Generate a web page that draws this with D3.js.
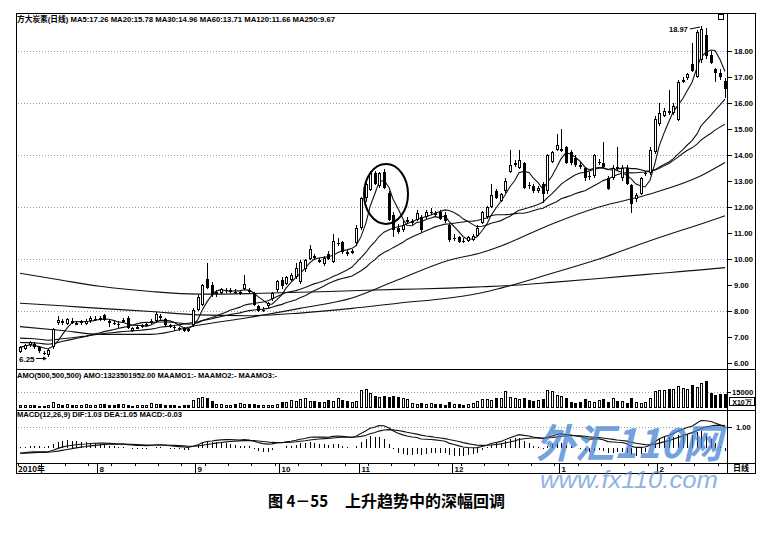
<!DOCTYPE html>
<html><head><meta charset="utf-8">
<script src="https://cdn.jsdelivr.net/npm/d3@7"></script>
<style>body{margin:0;background:#fff}svg{display:block}</style>
</head><body>
<svg id="c" width="777" height="537"></svg>
<script>
// ---------------- DATA ----------------
const opens = [
6.42,6.55,6.68,6.75,6.62,6.4,6.3,6.6,7.55,7.6,
7.5,7.6,7.5,7.52,7.5,7.6,7.7,7.65,7.85,7.6,
7.55,7.5,7.6,7.75,7.25,7.35,7.4,7.45,7.55,7.6,
7.8,7.7,7.45,7.4,7.35,7.35,7.3,7.45,8.05,8.25,
9.25,9.0,8.65,8.7,8.8,8.78,8.75,8.7,8.85,8.8,
8.7,8.2,8.05,8.2,8.45,8.8,
9.2,9.05,9.2,9.3,9.1,9.6,10.0,10.1,9.95,9.8,
10.2,9.9,10.6,10.65,10.25,10.25,10.6,11.2,12.35,12.65,
13.3,12.8,13.35,12.55,11.7,11.2,11.1,11.45,11.4,11.5,
11.6,11.6,11.8,11.75,11.8,11.7,11.3,10.8,10.85,10.7,
10.7,10.75,10.9,11.4,11.6,12.0,12.6,
12.25,12.6,13.35,13.65,13.5,13.7,12.85,12.8,12.6,12.9,
12.6,13.75,14.2,14.2,14.3,14.1,13.9,13.6,13.5,13.2,
13.2,13.75,13.7,13.1,13.1,13.55,13.1,13.5,12.85,12.3,
12.5,13.3,13.3,14.1,15.2,15.5,15.7,15.6,15.35,16.8,
16.95,17.5,17.0,17.65,18.6,17.85,17.3,17.15,16.85];
const highs = [
6.65,6.75,6.85,6.8,6.65,6.45,6.55,7.35,7.8,7.7,
7.75,7.75,7.6,7.65,7.7,7.8,7.8,7.8,7.9,7.7,
7.65,7.6,7.75,7.8,7.4,7.45,7.5,7.55,7.7,7.95,
7.9,7.75,7.5,7.45,7.4,7.4,7.35,8.1,8.6,9.05,
9.85,9.1,8.8,8.9,8.9,8.88,8.85,8.8,9.4,8.9,
8.75,8.25,8.15,8.35,8.75,9.2,
9.3,9.35,9.45,9.85,9.95,10.0,10.55,10.2,10.05,10.1,
10.3,10.95,10.8,10.7,10.35,10.4,11.3,12.4,13.0,13.4,
13.4,13.35,13.45,12.6,11.8,11.35,11.45,11.6,11.55,11.9,
11.7,11.9,11.95,11.85,11.9,11.8,11.35,10.95,10.9,10.8,
10.9,10.95,11.3,11.85,12.05,12.9,12.7,
12.55,13.1,14.2,13.8,14.2,13.75,12.95,12.9,12.8,12.95,
14.05,14.15,14.8,15.0,14.35,14.2,14.0,13.75,13.55,13.35,
14.05,13.85,14.5,13.2,13.6,14.3,13.6,13.6,12.9,12.55,
13.15,13.4,14.3,15.5,16.0,15.8,16.5,16.0,16.9,17.0,
17.15,18.3,18.8,18.97,18.9,18.0,17.35,17.3,16.95];
const lows = [
6.38,6.5,6.6,6.55,6.4,6.3,6.25,6.55,7.45,7.45,
7.45,7.5,7.45,7.48,7.45,7.55,7.6,7.6,7.6,7.4,
7.45,7.35,7.55,7.3,7.2,7.3,7.35,7.4,7.5,7.55,
7.65,7.4,7.35,7.25,7.25,7.2,7.2,7.4,8.0,8.2,
8.85,8.55,8.55,8.65,8.7,8.7,8.65,8.6,8.8,8.65,
8.2,7.95,7.95,8.1,8.4,8.75,
8.85,9.0,9.15,9.25,9.05,9.5,9.95,9.95,9.85,9.75,
9.95,9.85,10.5,10.2,10.1,10.2,10.5,11.1,12.2,12.6,
12.85,12.75,12.7,11.45,10.85,10.95,11.05,11.35,11.3,11.45,
11.05,11.55,11.7,11.6,11.5,11.4,10.65,10.7,10.6,10.6,
10.65,10.7,10.85,11.35,11.55,11.95,12.3,
12.2,12.55,13.3,13.55,13.45,12.7,12.7,12.55,12.55,12.15,
12.5,13.7,14.15,14.1,13.65,13.6,13.55,13.45,13.0,13.05,
13.1,13.6,13.5,12.65,13.05,13.4,13.0,12.85,11.75,12.2,
12.45,13.2,13.25,14.05,15.1,15.45,15.55,15.55,15.3,16.75,
16.9,17.2,16.95,17.55,17.7,17.5,16.8,16.9,16.2];
const closes = [
6.6,6.7,6.8,6.6,6.45,6.35,6.5,7.3,7.65,7.55,
7.7,7.55,7.52,7.6,7.62,7.75,7.7,7.75,7.65,7.55,
7.5,7.45,7.65,7.35,7.35,7.4,7.45,7.5,7.6,7.9,
7.75,7.45,7.4,7.35,7.3,7.25,7.25,8.05,8.55,9.0,
8.9,8.6,8.75,8.85,8.8,8.8,8.7,8.72,9.05,8.75,
8.25,8.0,8.05,8.3,8.7,9.15,
8.95,9.3,9.4,9.65,9.9,9.95,10.4,10.05,9.9,10.05,
10.0,10.7,10.6,10.25,10.2,10.3,11.2,12.35,12.9,13.3,
12.9,13.3,12.75,11.5,11.1,11.05,11.3,11.5,11.45,11.75,
11.1,11.8,11.8,11.7,11.55,11.45,10.75,10.8,10.65,10.68,
10.85,10.9,11.2,11.8,12.0,12.45,12.35,
12.5,13.0,13.6,13.7,13.8,12.75,12.8,12.6,12.75,12.5,
14.0,14.1,14.4,14.25,13.7,13.7,13.6,13.55,13.1,13.2,
14.0,13.75,13.55,12.7,13.5,13.45,13.5,12.9,12.1,12.45,
13.1,13.3,14.2,15.4,15.6,15.7,15.6,15.9,16.8,16.9,
17.1,17.25,18.75,18.85,17.8,17.55,17.15,17.0,16.55];
// turnover (AMO), units of 10万
const amo = [
2600,2400,2800,2500,2300,2200,3000,5500,
4200,3000,3500,2800,2600,3000,3800,3200,2900,4000,3300,2800,2600,3500,4200,2500,2300,2600,2700,3000,4500,3600,3800,2700,2500,2400,2300,2500,2400,
7500,9500,10500,9000,7000,
4000,3500,3200,3000,3400,4800,3500,4200,3800,2800,2600,2900,3200,3500,
6000,5500,7500,6500,8500,9500,6800,7000,6000,5500,7200,6800,9000,7500,6500,5800,6200,
16500,17500,14500,11000,10500,11500,
10500,11500,10000,9500,8000,
5000,4200,4800,3800,4500,4000,4200,3000,5500,4200,3800,3200,3500,4500,
7000,8000,8500,7500,9000,9500,
16000,10500,9500,8500,
9000,7500,6800,7200,8000,
16500,15500,12000,11000,
9000,5500,4800,6000,
8000,6500,5200,7500,8500,6000,9000,7000,6500,5000,9500,5800,4500,6000,9000,
16000,17000,16500,18000,17500,21000,18500,18000,21500,20000,23500,25000,14000,12000,13000,13235];
// long moving averages at sample candles
const maIdx  = [0,9,17,28,38,49,60,71,81,92,99,103,114,124,135,146,151];
const ma60   = [7.4,7.25,7.1,7.1,7.45,7.75,8.1,8.5,9.2,9.95,10.25,10.5,11.35,12.0,12.5,13.2,13.71];
const ma120  = [8.3,8.2,8.1,7.98,7.85,7.82,7.92,8.1,8.3,8.5,8.7,8.88,9.45,10.0,10.7,11.35,11.66];
const ma250  = [9.45,9.18,8.95,8.75,8.65,8.67,8.72,8.78,8.83,8.88,8.93,8.96,9.1,9.25,9.42,9.58,9.67];
const priceTicks = [6,7,8,9,10,11,12,13,14,15,16,17,18];
const gridPrices = [8,10,12,14,16,18];
const monthIdx = [17,38,56,73,93,116,137];
const monthLbl = ["8","9","10","11","12","1","2"];
const headerMain = "方大炭素(日线) MA5:17.26 MA20:15.78 MA30:14.96 MA60:13.71 MA120:11.66 MA250:9.67";
const headerAmo = "AMO(500,500,500) AMO:1323501952.00 MAAMO1:- MAAMO2:- MAAMO3:-";
const headerMacd = "MACD(12,26,9) DIF:1.03 DEA:1.05 MACD:-0.03";

// ---------------- DERIVED ----------------
const N = closes.length;
function sma(n, prior){
  return closes.map((c,i)=>{
    let s=0,k=0;
    for(let j=Math.max(0,i-n+1);j<=i;j++){s+=closes[j];k++;}
    return prior==null ? s/k : (s+(n-k)*prior)/n;
  });
}
const ma5 = sma(5,null), ma20 = sma(20,6.8), ma30 = sma(30,6.97);
let e12=6.62,e26=6.92,dea=-0.28;
const dif=[],deaA=[],hist=[];
closes.forEach(c=>{
  e12=e12*11/13+c*2/13; e26=e26*25/27+c*2/27;
  const d=e12-e26; dea=dea*0.8+d*0.2;
  dif.push(d); deaA.push(dea); hist.push(2*(d-dea));
});

// ---------------- LAYOUT ----------------
const L=16,R=727,RR=755,T=13,mainB=369,amoB=410,macdB=463,axB=473;
const F='"Liberation Sans",Arial,sans-serif';
const svg=d3.select("#c");
svg.append("rect").attr("width",777).attr("height",537).attr("fill","#fff");

const x=d3.scaleBand().domain(d3.range(N)).range([18,R]);
const cx=i=>Math.round(x(i)+x.bandwidth()/2);
const y=d3.scaleLinear().domain([6,18]).range([363,51]);
const ya=d3.scaleLinear().domain([0,15000]).range([408,392]);
const ym=d3.scaleLinear().domain([0,1]).range([447.5,427]);

// grid
const grid=svg.append("g").attr("stroke","#9a9a9a").attr("stroke-dasharray","1,2").attr("shape-rendering","crispEdges");
grid.selectAll("line.p").data(gridPrices).join("line")
  .attr("x1",L+2).attr("x2",R).attr("y1",d=>Math.round(y(d))+0.5).attr("y2",d=>Math.round(y(d))+0.5);
grid.append("line").attr("x1",L+2).attr("x2",R).attr("y1",Math.round(ya(15000))+0.5).attr("y2",Math.round(ya(15000))+0.5);
grid.append("line").attr("x1",L+2).attr("x2",R).attr("y1",Math.round(ym(1))+0.5).attr("y2",Math.round(ym(1))+0.5);

// moving averages
const lineG=svg.append("g").attr("fill","none").attr("stroke","#111").attr("stroke-width",1.1);
const lineC=d3.line().x((d,i)=>cx(i)).y(d=>y(d));
[ma5,ma20,ma30].forEach(a=>lineG.append("path").attr("d",lineC(a)));
const lineS=d3.line().x((d,k)=>cx(maIdx[k])).y(d=>y(d)).curve(d3.curveMonotoneX);
[ma60,ma120,ma250].forEach(a=>lineG.append("path").attr("d",lineS(a)));

// candles
const cg=svg.append("g").attr("shape-rendering","crispEdges");
d3.range(N).forEach(i=>{
  const o=opens[i],c=closes[i],h=highs[i],l=lows[i],xc=cx(i);
  const up=c>=o;
  const top=Math.round(y(Math.max(o,c))),bot=Math.round(y(Math.min(o,c)));
  const yh=Math.round(y(h)),yl=Math.round(y(l));
  cg.append("line").attr("x1",xc+0.5).attr("x2",xc+0.5).attr("y1",yh).attr("y2",top).attr("stroke","#000");
  cg.append("line").attr("x1",xc+0.5).attr("x2",xc+0.5).attr("y1",bot).attr("y2",yl).attr("stroke","#000");
  if(bot-top<1){
    cg.append("line").attr("x1",xc-1).attr("x2",xc+2).attr("y1",top+0.5).attr("y2",top+0.5).attr("stroke","#000");
  } else if(up){
    cg.append("rect").attr("x",xc-0.5).attr("y",top+0.5).attr("width",2).attr("height",Math.max(1,bot-top-1))
      .attr("fill","#fff").attr("stroke","#000");
  } else {
    cg.append("rect").attr("x",xc-1).attr("y",top).attr("width",3).attr("height",Math.max(1,bot-top)).attr("fill","#000");
  }
});

// AMO bars
const ag=svg.append("g").attr("shape-rendering","crispEdges");
amo.forEach((v,i)=>{
  const xc=cx(i),t=Math.round(ya(v)),b=408;
  if(closes[i]>=opens[i]) ag.append("rect").attr("x",xc-0.5).attr("y",t+0.5).attr("width",2).attr("height",Math.max(1,b-t-1)).attr("fill","#fff").attr("stroke","#000");
  else ag.append("rect").attr("x",xc-1).attr("y",t).attr("width",3).attr("height",Math.max(1,b-t)).attr("fill","#000");
});

// MACD
const mg=svg.append("g");
mg.selectAll("line").data(hist).join("line").attr("shape-rendering","crispEdges")
  .attr("x1",(d,i)=>cx(i)+0.5).attr("x2",(d,i)=>cx(i)+0.5)
  .attr("y1",ym(0)).attr("y2",d=>ym(d)).attr("stroke","#000");
const lm=d3.line().x((d,i)=>cx(i)).y(d=>ym(d));
mg.append("path").attr("d",lm(dif)).attr("fill","none").attr("stroke","#111").attr("stroke-width",1.1);
mg.append("path").attr("d",lm(deaA)).attr("fill","none").attr("stroke","#111").attr("stroke-width",1.1);

// frame
const fr=svg.append("g").attr("stroke","#000").attr("shape-rendering","crispEdges");
[[L,T,RR,T],[L,mainB,RR,mainB],[L,amoB,RR,amoB],[L,macdB,RR,macdB],[L,axB,RR,axB]]
  .forEach(s=>fr.append("line").attr("x1",s[0]).attr("y1",s[1]+0.5).attr("x2",s[2]).attr("y2",s[3]+0.5));
fr.append("line").attr("x1",L+0.5).attr("x2",L+0.5).attr("y1",T).attr("y2",axB+1).attr("stroke-width",1.5);
fr.append("line").attr("x1",R+0.5).attr("x2",R+0.5).attr("y1",T).attr("y2",axB+1);
fr.append("line").attr("x1",RR+0.5).attr("x2",RR+0.5).attr("y1",T).attr("y2",axB+1);

// right axes
function styleAxis(g){g.select(".domain").remove();g.selectAll("text").attr("font-family",F).attr("font-size","7.6px").attr("font-weight","bold").attr("fill","#000");g.selectAll("line").attr("stroke","#000");}
svg.append("g").attr("transform",`translate(${R+1},0)`).call(d3.axisRight(y).tickValues(priceTicks).tickFormat(d3.format(".2f")).tickSize(4).tickPadding(2)).call(styleAxis);
svg.append("g").attr("transform",`translate(${R+1},0)`).call(d3.axisRight(ya).tickValues([15000]).tickFormat(d3.format("d")).tickSize(3).tickPadding(1)).call(styleAxis);
svg.append("g").attr("transform",`translate(${R+1},0)`).call(d3.axisRight(ym).tickValues([1]).tickFormat(d3.format(".2f")).tickSize(4).tickPadding(4)).call(styleAxis);
svg.append("rect").attr("x",R+2.5).attr("y",397.5).attr("width",25).attr("height",8).attr("fill","#fff").attr("stroke","#000");
svg.append("text").attr("x",R+15).attr("y",404.5).attr("text-anchor","middle").attr("font-family",F).attr("font-size","7px").attr("font-weight","bold").text("X10万");
svg.append("text").attr("x",R+14).attr("y",471).attr("text-anchor","middle").attr("font-family",'"Noto Sans CJK SC",sans-serif').attr("font-size","8px").attr("font-weight","bold").text("日线");
svg.append("rect").attr("x",R-8.5).attr("y",14.5).attr("width",5).attr("height",5).attr("fill","none").attr("stroke","#000");

// x axis strip
const xg=svg.append("g").attr("shape-rendering","crispEdges");
d3.range(0,N,5).forEach(i=>xg.append("line").attr("x1",Math.round(x(i))+0.5).attr("x2",Math.round(x(i))+0.5).attr("y1",macdB).attr("y2",macdB+3).attr("stroke","#000"));
monthIdx.forEach((i,k)=>{
  const xx=Math.round(x(i))+0.5;
  xg.append("line").attr("x1",xx).attr("x2",xx).attr("y1",macdB).attr("y2",axB).attr("stroke","#000");
  svg.append("text").attr("x",xx+2).attr("y",471.5).attr("font-family",F).attr("font-size","8px").attr("font-weight","bold").text(monthLbl[k]);
});
svg.append("text").attr("x",18).attr("y",471.5).attr("font-family",'"Noto Sans CJK SC",sans-serif').attr("font-size","8px").attr("font-weight","bold").text("2010年");

// headers
function hdr(t,yy,len){svg.append("text").attr("x",17).attr("y",yy).attr("font-family",'"Liberation Sans","Noto Sans CJK SC",sans-serif').attr("font-size","8px").attr("font-weight","bold").attr("textLength",len).attr("lengthAdjust","spacingAndGlyphs").text(t);}
hdr(headerMain,22,318);
hdr(headerAmo,378,260);
hdr(headerMacd,417,165);

// annotations
const hiIdx=d3.maxIndex(highs), loIdx=d3.minIndex(lows);
svg.append("text").attr("x",669).attr("y",32).attr("font-family",F).attr("font-size","7.5px").attr("font-weight","bold").text(d3.format(".2f")(highs[hiIdx]));
svg.append("line").attr("x1",690).attr("x2",cx(hiIdx)-1).attr("y1",29).attr("y2",Math.round(y(highs[hiIdx]))+1).attr("stroke","#000");
svg.append("text").attr("x",19).attr("y",362).attr("font-family",F).attr("font-size","8px").attr("font-weight","bold").text(d3.format(".2f")(lows[loIdx]));
svg.append("line").attr("x1",36).attr("x2",cx(loIdx)-2).attr("y1",358.5).attr("y2",358.5).attr("stroke","#000");
svg.append("path").attr("d",`M${cx(loIdx)-1},358.5 l-4,-2 v4 z`).attr("fill","#000");
// circle around the top
const ci=79;
svg.append("ellipse").attr("cx",cx(ci)-3).attr("cy",y(12.5)).attr("rx",22).attr("ry",30).attr("fill","none").attr("stroke","#000").attr("stroke-width",2);

// watermark
svg.append("text").attr("x",536).attr("y",458).attr("font-family",'"Noto Sans CJK SC",sans-serif').attr("font-style","italic").attr("font-weight","bold").attr("font-size","40px").attr("fill","#3f7fd0").attr("opacity",0.72).attr("textLength",186).attr("lengthAdjust","spacingAndGlyphs").text("外汇110网");
svg.append("text").attr("x",540).attr("y",488).attr("font-family",F).attr("font-style","italic").attr("font-size","24px").attr("fill","#5f95d8").attr("opacity",0.7).attr("textLength",178).attr("lengthAdjust","spacingAndGlyphs").text("www.fx110.com");

// caption
svg.append("text").attr("x",268).attr("y",507).attr("font-family",'"Noto Sans CJK SC",sans-serif').attr("font-weight","bold").attr("font-size","16px").attr("textLength",60).attr("lengthAdjust","spacingAndGlyphs").text("图 4－55");
svg.append("text").attr("x",345).attr("y",507).attr("font-family",'"Noto Sans CJK SC",sans-serif').attr("font-weight","bold").attr("font-size","16px").attr("textLength",160).attr("lengthAdjust","spacingAndGlyphs").text("上升趋势中的深幅回调");
</script>
</body></html>
